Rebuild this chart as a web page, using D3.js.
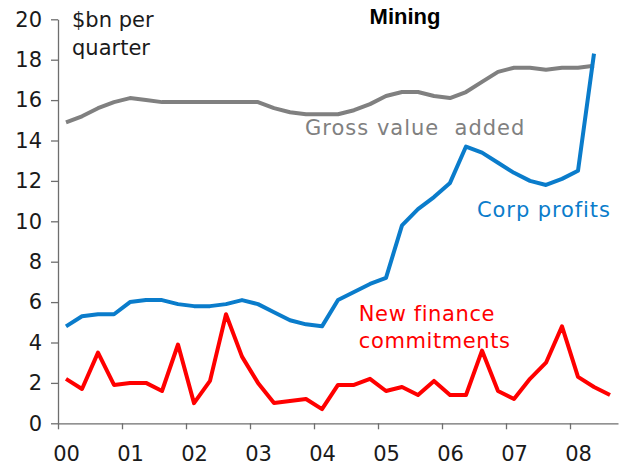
<!DOCTYPE html>
<html>
<head>
<meta charset="utf-8">
<script src="https://cdn.jsdelivr.net/npm/d3@7"></script>
<style>
  body { margin: 0; background: #fff; }
  svg { display: block; font-family: "DejaVu Sans", Verdana, sans-serif; }
  .axis path, .axis line { stroke: #6e6e6e; stroke-width: 1.3; }
  .axis text { fill: #1a1a1a; font-size: 21px; font-family: "DejaVu Sans", Verdana, sans-serif; }
</style>
</head>
<body>
<svg></svg>
<script>
const width = 620;
const height = 466;

// quarterly data, 2000 Q1 onwards
const years = ["00", "01", "02", "03", "04", "05", "06", "07", "08"];
const grossValueAdded = [
  14.9, 15.2, 15.6, 15.9, 16.1, 16.0, 15.9, 15.9, 15.9, 15.9, 15.9, 15.9,
  15.9, 15.6, 15.4, 15.3, 15.3, 15.3, 15.5, 15.8, 16.2, 16.4, 16.4, 16.2,
  16.1, 16.4, 16.9, 17.4, 17.6, 17.6, 17.5, 17.6, 17.6, 17.7
];
const corpProfits = [
  4.8, 5.3, 5.4, 5.4, 6.0, 6.1, 6.1, 5.9, 5.8, 5.8, 5.9, 6.1,
  5.9, 5.5, 5.1, 4.9, 4.8, 6.1, 6.5, 6.9, 7.2, 9.8, 10.6, 11.2,
  11.9, 13.7, 13.4, 12.9, 12.4, 12.0, 11.8, 12.1, 12.5, 18.3
];
const newFinance = [
  2.2, 1.7, 3.5, 1.9, 2.0, 2.0, 1.6, 3.9, 1.0, 2.1, 5.4, 3.3,
  2.0, 1.0, 1.1, 1.2, 0.7, 1.9, 1.9, 2.2, 1.6, 1.8, 1.4, 2.1,
  1.4, 1.4, 3.6, 1.6, 1.2, 2.2, 3.0, 4.8, 2.3, 1.8, 1.4
];
const yTicks = [0, 2, 4, 6, 8, 10, 12, 14, 16, 18, 20];

const svg = d3.select("svg").attr("width", width).attr("height", height);

const nQuarters = 35;
const x = d3.scaleLinear().domain([0, nQuarters]).range([58, 618]);
const y = d3.scaleLinear().domain([0, 20]).range([423.3, 19.3]);

// y axis
svg.append("g")
  .attr("class", "axis")
  .attr("transform", `translate(${x(0)},0)`)
  .call(d3.axisLeft(y).tickValues(yTicks).tickSize(7).tickPadding(9).tickSizeOuter(0));

// x axis: tick marks at year boundaries
svg.append("g")
  .attr("class", "axis")
  .attr("transform", `translate(0,${y(0)})`)
  .call(d3.axisBottom(x).tickValues(years.map((d, i) => i * 4)).tickSize(6).tickSizeOuter(0).tickFormat(""));

// x axis labels under first quarter of each year
svg.append("g")
  .attr("class", "axis")
  .attr("transform", `translate(0,${y(0)})`)
  .call(d3.axisBottom(x).tickValues(years.map((d, i) => i * 4 + 0.5)).tickSize(0).tickPadding(23)
    .tickFormat((d, i) => years[i]))
  .call(g => g.select(".domain").remove());

const line = d3.line()
  .x((d, i) => x(i + 0.5))
  .y(d => y(d));

const series = [
  { values: grossValueAdded, color: "#808080" },
  { values: corpProfits, color: "#0a7ccb" },
  { values: newFinance, color: "#ff0000" }
];

svg.selectAll(".series")
  .data(series)
  .enter()
  .append("path")
  .attr("class", "series")
  .attr("d", d => line(d.values))
  .attr("fill", "none")
  .attr("stroke", d => d.color)
  .attr("stroke-width", 4)
  .attr("stroke-linejoin", "round");

// series labels
svg.append("text")
  .attr("x", x(15.44)).attr("y", y(14.27))
  .attr("fill", "#808080").attr("font-size", 21).attr("letter-spacing", 1)
  .style("white-space", "pre")
  .text("Gross value  added");

svg.append("text")
  .attr("x", x(26.19)).attr("y", y(10.23))
  .attr("fill", "#0a7ccb").attr("font-size", 21).attr("letter-spacing", 0.9)
  .text("Corp profits");

const nf = svg.append("text")
  .attr("x", x(18.8)).attr("y", y(5.06))
  .attr("fill", "#ff0000").attr("font-size", 21).attr("letter-spacing", 0.6);
nf.append("tspan").attr("x", x(18.8)).text("New finance");
nf.append("tspan").attr("x", x(18.8)).attr("dy", 27).text("commitments");

// unit label and title
const unit = svg.append("text")
  .attr("x", 72).attr("y", 27)
  .attr("fill", "#1a1a1a").attr("font-size", 21);
unit.append("tspan").attr("x", 72).text("$bn per");
unit.append("tspan").attr("x", 72).attr("dy", 28).text("quarter");

svg.append("text")
  .attr("x", 405).attr("y", 23.5)
  .attr("text-anchor", "middle")
  .attr("font-family", "'Liberation Sans', Arial, sans-serif")
  .attr("font-weight", "bold").attr("font-size", 22)
  .attr("fill", "#000")
  .text("Mining");
</script>
</body>
</html>
